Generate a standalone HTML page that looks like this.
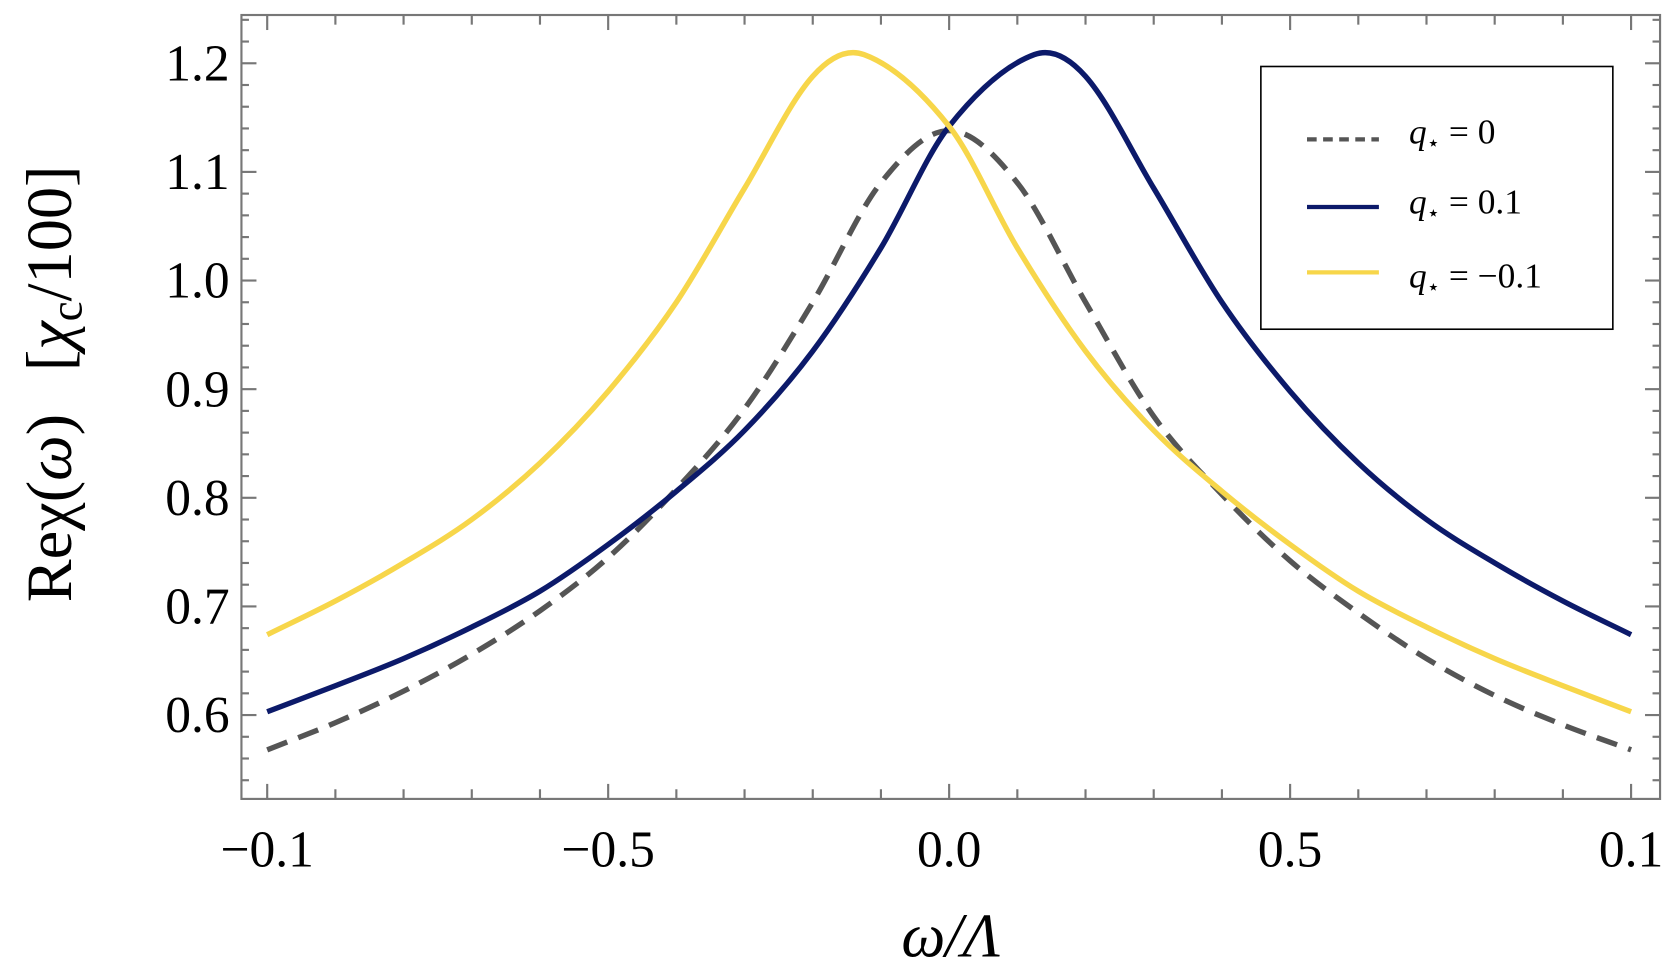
<!DOCTYPE html>
<html><head><meta charset="utf-8"><style>
html,body{margin:0;padding:0;background:#fff;}
svg{display:block;}
text{font-family:"Liberation Serif",serif;fill:#000;}
</style></head><body>
<svg id="chart" width="1674" height="978" viewBox="0 0 1560 912" preserveAspectRatio="none" xmlns="http://www.w3.org/2000/svg">
<g id="ticks"></g>
<rect x="225" y="14" width="1322" height="731" fill="none" stroke="#777" stroke-width="2"/>
<g id="series"></g>
<g id="labels"></g>
<text x="886" y="892" font-size="58" font-style="italic" text-anchor="middle">ω/Λ</text>
<text transform="translate(66,358) rotate(-90)" font-size="60" text-anchor="middle">Reχ(<tspan font-style="italic">ω</tspan>)<tspan dx="40">[</tspan><tspan font-style="italic">χ</tspan><tspan font-size="42" dy="10">c</tspan><tspan dy="-10">/100]</tspan></text>
<g>
<rect x="1175" y="62" width="328" height="245" fill="#fff" stroke="#000" stroke-width="1.5"/>
<g><line x1="1218" y1="130" x2="1285" y2="130" stroke="#555" stroke-width="4" stroke-dasharray="9,6"/><text x="1313" y="134" font-size="33"><tspan font-style="italic">q</tspan><tspan font-size="20" dy="6">⋆</tspan><tspan dy="-6"> = 0</tspan></text></g>
<g><line x1="1218" y1="193" x2="1285" y2="193" stroke="#0c1a6a" stroke-width="4"/><text x="1313" y="199" font-size="33"><tspan font-style="italic">q</tspan><tspan font-size="20" dy="6">⋆</tspan><tspan dy="-6"> = 0.1</tspan></text></g>
<g><line x1="1218" y1="254" x2="1285" y2="254" stroke="#f7d64a" stroke-width="4"/><text x="1313" y="268" font-size="33"><tspan font-style="italic">q</tspan><tspan font-size="20" dy="6">⋆</tspan><tspan dy="-6"> = −0.1</tspan></text></g>
</g>
</svg>
<script>
const omega = [-1,-0.9,-0.8,-0.7,-0.6,-0.5,-0.4,-0.3,-0.2,-0.1,0,0.125,0.2,0.3,0.4,0.5,0.6,0.7,0.8,0.9,1];
const navyVals = [0.603,0.627,0.652,0.681,0.714,0.757,0.806,0.862,0.935,1.03,1.142,1.208,1.188,1.085,0.98,0.898,0.832,0.78,0.74,0.705,0.674];
const omegaY = [-1,-0.9,-0.8,-0.7,-0.6,-0.5,-0.4,-0.3,-0.2,-0.125,0,0.1,0.2,0.3,0.4,0.5,0.6,0.7,0.8,0.9,1];
const yellowVals = [0.674,0.705,0.74,0.78,0.832,0.898,0.98,1.085,1.188,1.208,1.142,1.03,0.935,0.862,0.806,0.757,0.714,0.681,0.652,0.627,0.603];
const omegaG = [-1,-0.9,-0.8,-0.7,-0.6,-0.5,-0.4,-0.3,-0.2,-0.1,0,0.1,0.2,0.3,0.4,0.5,0.6,0.7,0.8,0.9,1];
const grayVals = [0.568,0.593,0.622,0.656,0.696,0.745,0.808,0.882,0.98,1.09,1.138,1.09,0.98,0.875,0.803,0.742,0.694,0.652,0.618,0.591,0.568];
const xTickVals = [-1,-0.5,0,0.5,1];
const xTickLabels = ["−0.1","−0.5","0.0","0.5","0.1"];
const yTickVals = [0.6,0.7,0.8,0.9,1.0,1.1,1.2];
const yTickLabels = ["0.6","0.7","0.8","0.9","1.0","1.1","1.2"];

const NS="http://www.w3.org/2000/svg";
const L=225,R=1547,T=14,B=745;
function sx(w){return 884.5+w*635.5;}
function sy(v){return 59+(1.2-v)*1013;}
function mk(tag,attrs,parent){const e=document.createElementNS(NS,tag);for(const k in attrs)e.setAttribute(k,attrs[k]);parent.appendChild(e);return e;}
const ticks=document.getElementById('ticks'),series=document.getElementById('series'),labels=document.getElementById('labels');
for(let i=-10;i<=10;i++){const w=i/10,x=sx(w),len=(i%5===0)?14:9;
 const a=mk('line',{x1:x,y1:B,x2:x,y2:B-len,stroke:'#777','stroke-width':2},ticks);
 
 const b=mk('line',{x1:x,y1:T,x2:x,y2:T+len,stroke:'#777','stroke-width':2},ticks);
 }
for(let k=26;k<=62;k++){const v=k/50,y=sy(v);if(y<T||y>B)continue;const len=(k%5===0)?14:7;
 const a=mk('line',{x1:L,y1:y,x2:L+len,y2:y,stroke:'#777','stroke-width':2},ticks);
 
 const b=mk('line',{x1:R,y1:y,x2:R-len,y2:y,stroke:'#777','stroke-width':2},ticks);
 }
xTickVals.forEach((w,i)=>{const t=mk('text',{x:sx(w),y:808,'font-size':48,'text-anchor':'middle'},labels);t.textContent=xTickLabels[i];
 });
yTickVals.forEach((v,i)=>{const t=mk('text',{x:214,y:sy(v)+16,'font-size':48,'text-anchor':'end'},labels);t.textContent=yTickLabels[i];
 });
function path(xs,vs){const p=xs.map((w,i)=>[sx(w),sy(vs[i])]);let d='M'+p[0][0]+','+p[0][1];
 for(let i=0;i<p.length-1;i++){const p0=p[i-1]||p[i],p1=p[i],p2=p[i+1],p3=p[i+2]||p2;
  const d1=(p2[0]-p1[0])/(p2[0]-p0[0]||1),d2=(p2[0]-p1[0])/(p3[0]-p1[0]||1);
  d+=' C'+(p1[0]+(p2[0]-p0[0])*d1/3)+','+(p1[1]+(p2[1]-p0[1])*d1/3)+' '+(p2[0]-(p3[0]-p1[0])*d2/3)+','+(p2[1]-(p3[1]-p1[1])*d2/3)+' '+p2[0]+','+p2[1];}
 return d;}
const g=mk('path',{d:path(omegaG,grayVals),fill:'none',stroke:'#555','stroke-width':5,'stroke-dasharray':'20,11'},series);

const n=mk('path',{d:path(omega,navyVals),fill:'none',stroke:'#0c1a6a','stroke-width':5},series);

const y=mk('path',{d:path(omegaY,yellowVals),fill:'none',stroke:'#f7d64a','stroke-width':5},series);

</script>
</body></html>
